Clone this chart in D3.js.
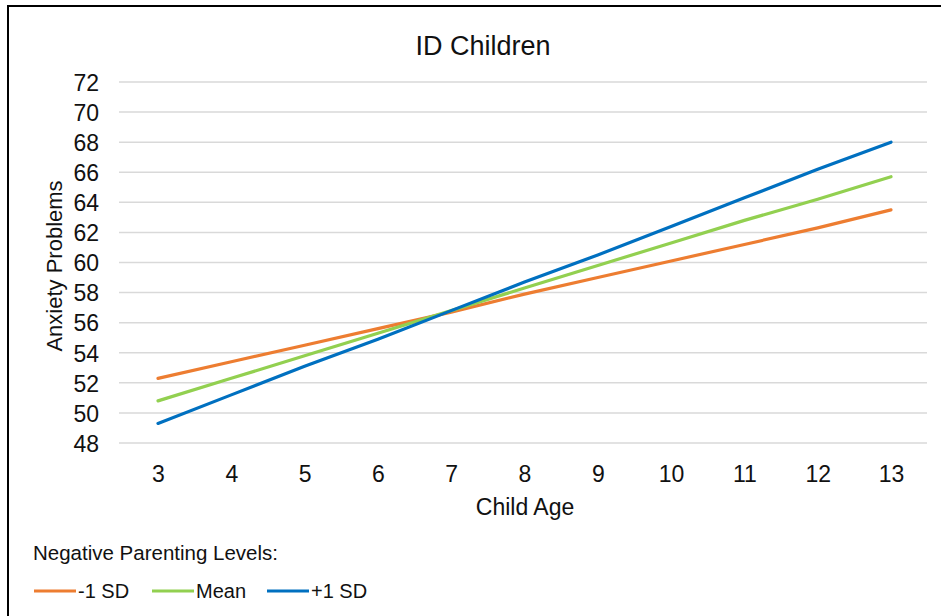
<!DOCTYPE html>
<html><head><meta charset="utf-8">
<script src="https://cdn.jsdelivr.net/npm/d3@7"></script>
<style>body{margin:0;background:#fff}svg{display:block}text{font-family:"Liberation Sans",Arial,sans-serif;fill:#111}</style>
</head><body><svg id="c" width="941" height="616"></svg>
<script>
const ages = [3,4,5,6,7,8,9,10,11,12,13];
const minus1SD = [52.3,53.4,54.5,55.6,56.7,57.9,59.0,60.1,61.2,62.3,63.5];
const meanVals = [50.8,52.3,53.8,55.3,56.8,58.3,59.8,61.3,62.8,64.2,65.7];
const plus1SD = [49.3,51.2,53.1,54.9,56.8,58.7,60.5,62.4,64.3,66.2,68.0];
const yTicks = [48,50,52,54,56,58,60,62,64,66,68,70,72];
const seriesNames = ["-1 SD","Mean","+1 SD"];
const colors = ["#ED7D31","#92D050","#0070C0"];
const series = [minus1SD, meanVals, plus1SD];

const svg = d3.select("#c");
svg.append("path").attr("d","M8,620 L8,6 L945,6").attr("fill","none").attr("stroke","#000").attr("stroke-width",2);

const x = d3.scalePoint().domain(ages).range([158,891]);
const y = d3.scaleLinear().domain([48,72]).range([443,82]);

const g = svg.append("g");
g.selectAll("line.grid").data(yTicks).join("line")
  .attr("x1",119).attr("x2",927).attr("y1",d=>y(d)).attr("y2",d=>y(d))
  .attr("stroke","#d9d9d9").attr("stroke-width",1.5);

const yAxis = g.append("g").attr("transform","translate(99,0)")
  .call(d3.axisLeft(y).tickValues(yTicks).tickSize(0).tickPadding(0));
yAxis.select(".domain").remove();
yAxis.selectAll("text").attr("font-size",23).attr("font-family","Liberation Sans").attr("fill","#111").attr("dy","0.36em");

const xAxis = g.append("g").attr("transform","translate(0,482)")
  .call(d3.axisBottom(x).tickSize(0).tickPadding(0));
xAxis.select(".domain").remove();
xAxis.selectAll("text").attr("font-size",23).attr("font-family","Liberation Sans").attr("fill","#111").attr("dy",0);

const line = d3.line().x((d,i)=>x(ages[i])).y(d=>y(d));
series.forEach((s,k)=>{
  g.append("path").datum(s).attr("d",line).attr("fill","none")
   .attr("stroke",colors[k]).attr("stroke-width",3.2).attr("stroke-linecap","round").attr("stroke-linejoin","round");
});

svg.append("text").attr("x",483).attr("y",55).attr("text-anchor","middle").attr("font-size",27).text("ID Children");
svg.append("text").attr("x",525).attr("y",515).attr("text-anchor","middle").attr("font-size",23).text("Child Age");
svg.append("text").attr("transform","translate(62,266) rotate(-90)").attr("text-anchor","middle").attr("font-size",22).text("Anxiety Problems");

svg.append("text").attr("x",33).attr("y",560).attr("font-size",20.5).text("Negative Parenting Levels:");
const legX = [34,152,267];
seriesNames.forEach((n,k)=>{
  svg.append("line").attr("x1",legX[k]).attr("x2",legX[k]+42).attr("y1",591).attr("y2",591)
    .attr("stroke",colors[k]).attr("stroke-width",3.2);
  svg.append("text").attr("x",legX[k]+44).attr("y",598).attr("font-size",20).text(n);
});
</script></body></html>
